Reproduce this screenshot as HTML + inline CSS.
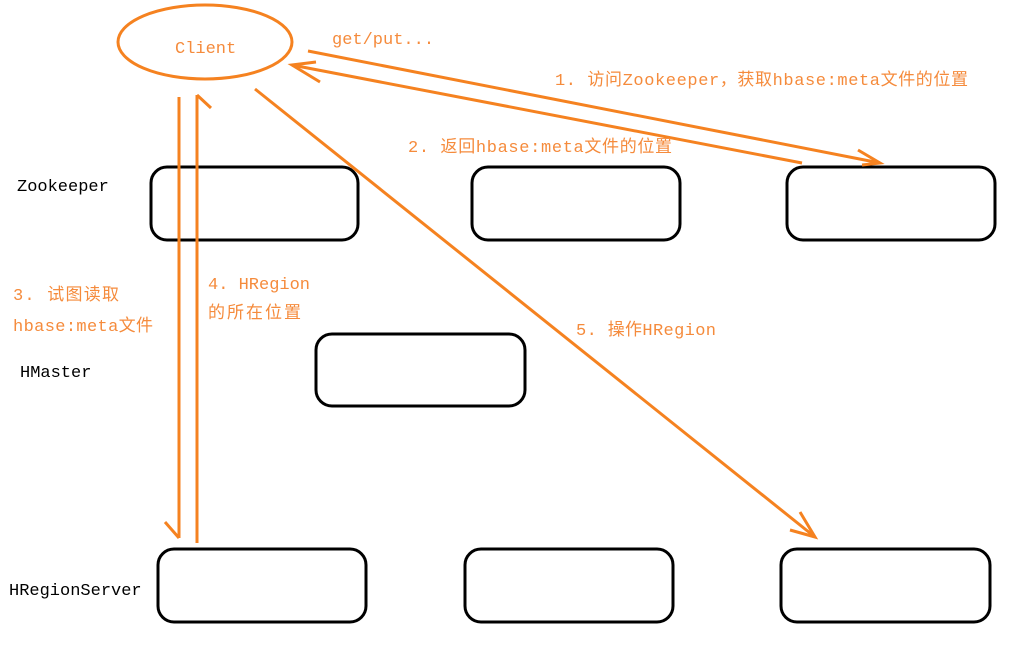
<!DOCTYPE html>
<html><head><meta charset="utf-8"><style>
body{margin:0;background:#fff;width:1013px;height:643px;overflow:hidden}
svg text{font-family:"Liberation Mono","Noto Sans CJK SC",monospace;font-size:17px}
</style></head><body>
<svg width="1013" height="643" viewBox="0 0 1013 643">
<g fill="none" stroke="#000" stroke-width="3">
<rect x="151" y="167" width="207" height="73" rx="16"/>
<rect x="472" y="167" width="208" height="73" rx="16"/>
<rect x="787" y="167" width="208" height="73" rx="16"/>
<rect x="316" y="334" width="209" height="72" rx="16"/>
<rect x="158" y="549" width="208" height="73" rx="16"/>
<rect x="465" y="549" width="208" height="73" rx="16"/>
<rect x="781" y="549" width="209" height="73" rx="16"/>
</g>
<g fill="none" stroke="#f58220" stroke-width="3">
<ellipse cx="205" cy="42" rx="87" ry="37"/>
<line x1="308" y1="51" x2="880" y2="163"/>
<polyline points="858,150 880,163 862,165"/>
<line x1="802" y1="163" x2="292" y2="65"/>
<polyline points="320,82 292,65 316,62"/>
<line x1="179" y1="97" x2="179" y2="538"/>
<polyline points="165,522 179,538"/>
<line x1="197" y1="543" x2="197" y2="95"/>
<polyline points="197,95 211,108"/>
<line x1="255" y1="89" x2="815" y2="537"/>
<polyline points="800,512 815,537 790,530"/>
</g>
<g fill="#f58b3c">
<text x="175" y="53">Client</text>
<text x="332" y="44">get/put...</text>
<text x="555" y="85" textLength="413">1. 访问Zookeeper，获取hbase:meta文件的位置</text>
<text x="408" y="152" textLength="264">2. 返回hbase:meta文件的位置</text>
<text x="13" y="300" textLength="106">3. 试图读取</text>
<text x="13" y="331" textLength="140">hbase:meta文件</text>
<text x="208" y="289" textLength="102">4. HRegion</text>
<text x="208" y="318" textLength="93">的所在位置</text>
<text x="576" y="335" textLength="140">5. 操作HRegion</text>
</g>
<g fill="#000">
<text x="17" y="191">Zookeeper</text>
<text x="20" y="377">HMaster</text>
<text x="9" y="595">HRegionServer</text>
</g>
</svg>
</body></html>
